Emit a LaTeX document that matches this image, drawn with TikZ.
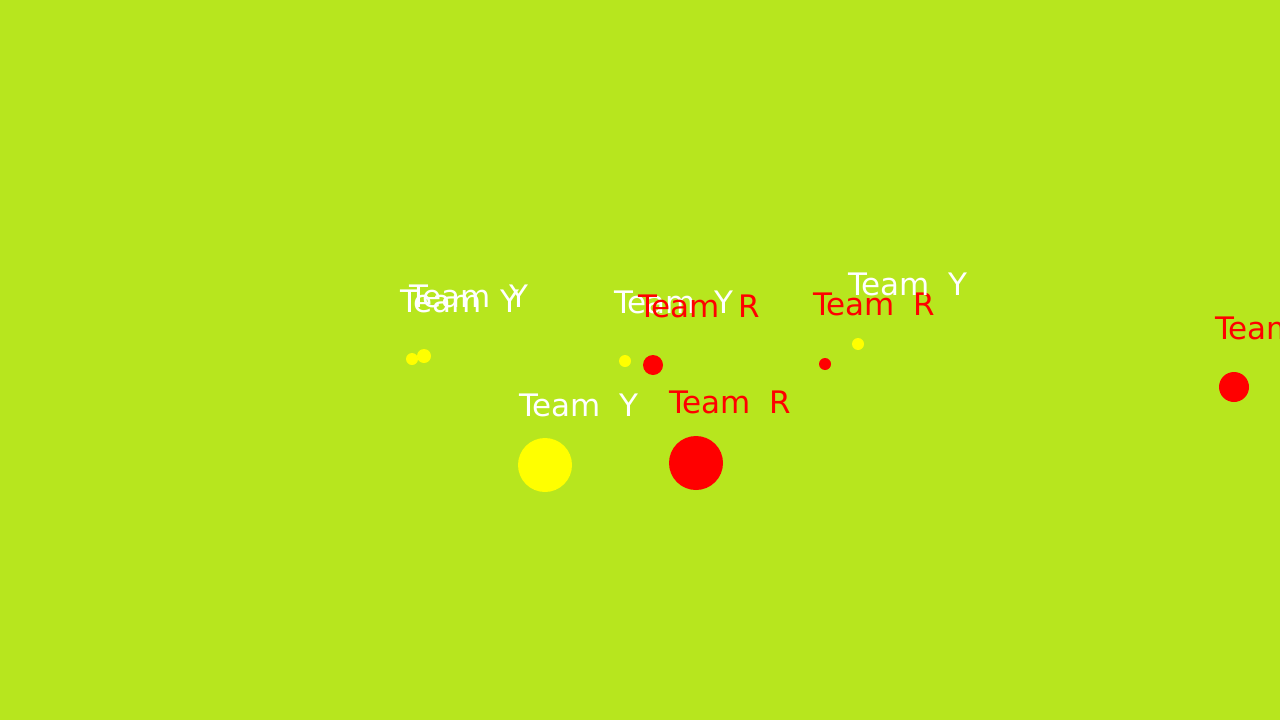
\documentclass[tikz,border=0pt]{standalone}
\usepackage{fontspec}
\setmainfont{DejaVu Sans}
\definecolor{bg}{RGB}{183,230,30}
\definecolor{tyel}{RGB}{255,255,0}
\definecolor{tred}{RGB}{255,0,0}
\newcommand\teamlbl[1]{Team\ \kern 9pt#1}
\begin{document}
\begin{tikzpicture}[x=1pt,y=-1pt,
  lab/.style={anchor=base west,inner sep=0pt,font=\fontsize{31}{31}\selectfont},
  ylab/.style={lab,text=white},
  rlab/.style={lab,text=tred},
  yball/.style={fill=tyel,draw=none},
  rball/.style={fill=tred,draw=none}]
\fill[bg] (0,0) rectangle (1280,720);
\useasboundingbox (0,0) rectangle (1280,720);
% balls
\fill[yball] (412,359) circle (6);
\fill[yball] (424,356) circle (7);
\fill[yball] (625,361) circle (6);
\fill[rball] (653,365) circle (10);
\fill[rball] (825,364) circle (6);
\fill[yball] (858,344) circle (6);
\fill[yball] (545,465) circle (27);
\fill[rball] (696,463) circle (27);
\fill[rball] (1234,387) circle (15);
% labels
\node[ylab] (l1) at (400,312) {\teamlbl{Y}};
\node[ylab] (l2) at (409,307) {\teamlbl{Y}};
\node[ylab] (l3) at (614,313) {\teamlbl{Y}};
\node[rlab] (l4) at (638,317) {\teamlbl{R}};
\node[rlab] (l5) at (813,315) {\teamlbl{R}};
\node[ylab] (l6) at (848,295) {\teamlbl{Y}};
\node[ylab] (l7) at (519,416) {\teamlbl{Y}};
\node[rlab] (l8) at (669,413) {\teamlbl{R}};
\node[rlab] (l9) at (1215,339) {\teamlbl{R}};
\end{tikzpicture}
\end{document}
